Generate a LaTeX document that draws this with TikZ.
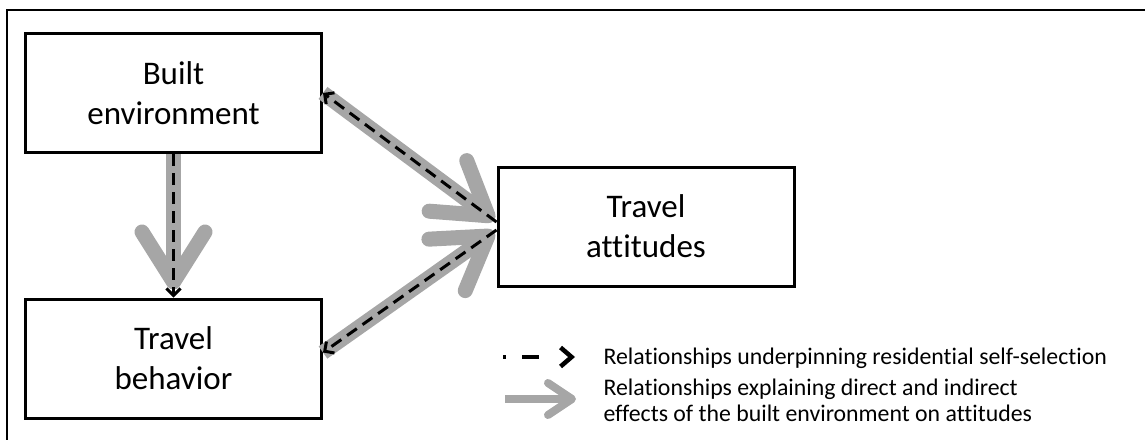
\documentclass[tikz,border=0pt]{standalone}
\usepackage{fontspec}
\setmainfont{Carlito}[Ligatures=NoCommon]
\usetikzlibrary{arrows.meta}
\definecolor{arrowgray}{RGB}{166,166,166}

\begin{document}
\begin{tikzpicture}[x=1pt, y=-1pt,
  box/.style={draw, line width=3pt, minimum width=296pt, minimum height=119pt,
    align=center, font=\fontsize{33}{40}\selectfont},
  effect/.style={draw=arrowgray, line width=15pt,
    -{Straight Barb[length=50pt, width=63pt, round]}},
  selection/.style={draw=black, line width=3pt, dash pattern=on 12pt off 7pt,
    -{Straight Barb[length=7pt, width=14pt]}},
  keytext/.style={anchor=west, align=left, font=\fontsize{23.8}{26}\selectfont}]
\useasboundingbox (0,0) rectangle (1145,439);
\draw[line width=1.5pt] (1160,10) -- (7,10) -- (7,450);

\path (173.5,93) node[box] (be) {Built\\environment}
      (173.5,358.5) node[box] (tb) {Travel\\behavior}
      (646,226.5) node[box] (ta) {Travel\\attitudes};

\coordinate (ta-up) at ([yshift=4.5pt]ta.west);
\coordinate (ta-low) at ([yshift=-3.5pt]ta.west);
\coordinate (tb-in) at ([yshift=6pt]tb.east);

% direct and indirect effects
\draw[effect, shorten >=8pt] (be) -- (tb);
\draw[effect, shorten >=3pt] (be.east) -- (ta-up);
\draw[effect, shorten >=3pt] (tb-in) -- (ta-low);

% residential self-selection
\draw[selection] (be) -- (tb);
\draw[selection] (ta-up) -- (be.east);
\draw[selection] (ta-low) -- (tb-in);

% legend
\coordinate (k1a) at (503,357);
\coordinate (k1b) at (575,357);
\coordinate (k2a) at (505,399);
\coordinate (k2b) at (576,399);
\draw[line width=4.5pt, dash pattern=on 3pt off 16pt on 17pt off 60pt,
  -{Straight Barb[length=11pt, width=19pt]}] (k1a) -- (k1b);
\draw[draw=arrowgray, line width=8pt,
  -{Straight Barb[length=24pt, width=32pt, round]}] (k2a) -- (k2b);
\node[keytext] (k1) at (600,358) {Relationships underpinning residential self-selection};
\node[keytext] (k2) at (600,400) {Relationships explaining direct and indirect\\effects of the built environment on attitudes};
\end{tikzpicture}
\end{document}
